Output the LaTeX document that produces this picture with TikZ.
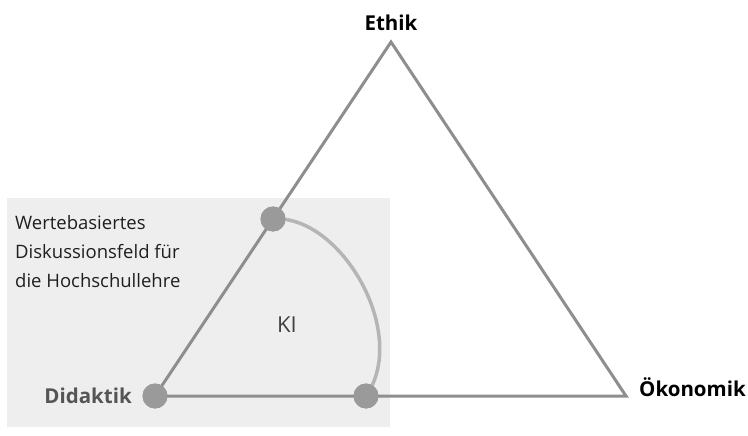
\documentclass[tikz,border=0pt]{standalone}
\usepackage{fontspec}
\setmainfont{Open Sans}
\definecolor{boxfill}{HTML}{EFEEEF}
\definecolor{triline}{HTML}{8E8E8E}
\definecolor{arcline}{HTML}{B5B5B5}
\definecolor{dotfill}{HTML}{9A9A9A}
\definecolor{didgray}{HTML}{555555}
\begin{document}
\begin{tikzpicture}[x=1pt,y=-1pt,
  vertex/.style={circle,fill=dotfill,minimum size=25pt,inner sep=0pt},
  edge/.style={draw=triline,line width=3pt},
  arcedge/.style={draw=arcline,line width=3.5pt},
  corner/.style={font=\fontsize{20.5}{24}\selectfont\bfseries,inner sep=0pt},
]
\useasboundingbox[fill=white] (0,0) rectangle (748,436);
\fill[boxfill] (7,198) rectangle (390,427);
\coordinate (top) at (391,42);
\coordinate (right) at (626,396);
\node[vertex] (left) at (155,396) {};
\node[vertex] (mid) at (273,219) {};
\node[vertex] (bot) at (366,396) {};
\draw[edge,line join=miter] (left.center) -- (top) -- (right) -- (left.center);
\draw[arcedge] (mid.center) .. controls (340,214) and (410,333) .. (bot.center);
\node[vertex] at (273,219) {};
\node[vertex] at (155,396) {};
\node[vertex] at (366,396) {};
\node[corner,anchor=base] (ethik) at (391,31) {Ethik};
\node[corner,anchor=base west] (oek) at (639,396) {Ökonomik};
\node[corner,anchor=base east,text=didgray] (did) at (132,403) {Didaktik};
\node[font=\fontsize{22}{24}\selectfont,text=black!75,anchor=base,inner sep=0pt] (ki) at (287,332) {KI};
\node[font=\fontsize{18.5}{29}\selectfont,text=black!88,anchor=base west,align=left,inner sep=0pt] (feld) at (15,287) {Wertebasiertes\\Diskussionsfeld für\\die Hochschullehre};
\end{tikzpicture}
\end{document}
